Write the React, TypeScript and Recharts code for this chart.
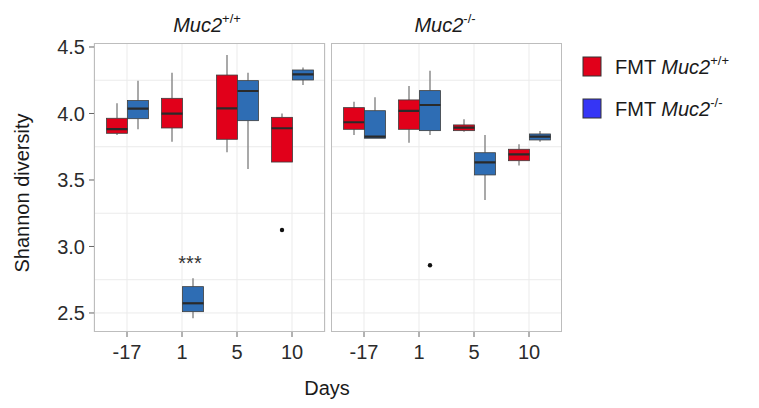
import { Bar, CartesianGrid, ComposedChart, XAxis, YAxis } from 'recharts'

const days = ['-17', '1', '5', '10']
const yTicks = [2.5, 3.0, 3.5, 4.0, 4.5]
const yMinor = [2.75, 3.25, 3.75, 4.25]

// [lower whisker, q1, median, q3, upper whisker] for each day
// recipients Muc2+/+
const wtRed = [
  [3.838, 3.851, 3.883, 3.964, 4.077],
  [3.788, 3.891, 3.999, 4.114, 4.307],
  [3.708, 3.806, 4.039, 4.289, 4.44],
  [3.635, 3.635, 3.889, 3.971, 4.0],
]
const wtBlue = [
  [3.881, 3.961, 4.036, 4.097, 4.247],
  [2.46, 2.51, 2.573, 2.698, 2.761],
  [3.583, 3.946, 4.169, 4.247, 4.307],
  [4.214, 4.252, 4.294, 4.327, 4.345],
]
// recipients Muc2-/-
const koRed = [
  [3.838, 3.881, 3.934, 4.044, 4.089],
  [3.78, 3.881, 4.019, 4.102, 4.207],
  [3.863, 3.871, 3.893, 3.914, 3.956],
  [3.608, 3.645, 3.693, 3.731, 3.768],
]
const koBlue = [
  [3.814, 3.814, 3.826, 4.021, 4.122],
  [3.838, 3.871, 4.064, 4.172, 4.322],
  [3.35, 3.538, 3.633, 3.705, 3.838],
  [3.788, 3.801, 3.826, 3.846, 3.868],
]
const wtRedOutliers = [[], [], [], [3.124]]
const wtBlueOutliers = [[], [], [], []]
const koRedOutliers = [[], [], [], []]
const koBlueOutliers = [[], [2.859], [], []]
const wtBlueSig = ['', '***', '', '']
const noSig = ['', '', '', '']

const RED = '#e1001a'
const BLUE = '#2e6db4'
const FONT = '"Liberation Sans", Arial, sans-serif'
const Y_DOMAIN = [2.357, 4.53]

function buildRows(red, blue, redOut, blueOut, redSig, blueSig) {
  return days.map((day, i) => ({
    day,
    red: [red[i][1], red[i][3]],
    blue: [blue[i][1], blue[i][3]],
    redStats: { s: red[i], out: redOut[i], sig: redSig[i] },
    blueStats: { s: blue[i], out: blueOut[i], sig: blueSig[i] },
  }))
}

const wtRows = buildRows(wtRed, wtBlue, wtRedOutliers, wtBlueOutliers, noSig, wtBlueSig)
const koRows = buildRows(koRed, koBlue, koRedOutliers, koBlueOutliers, noSig, noSig)

function boxShape(fill: string, key: string) {
  return (props: any) => {
    const { x, y, width, height, payload } = props
    const st = payload[key]
    const [lo, q1, med, q3, hi] = st.s
    const k = height / (q3 - q1)
    const py = (v: number) => y + (q3 - v) * k
    const cx = x + width / 2
    return (
      <g>
        <line x1={cx} x2={cx} y1={py(hi)} y2={py(q3)} stroke='#8c8c8c' strokeWidth={1.5} />
        <line x1={cx} x2={cx} y1={py(q1)} y2={py(lo)} stroke='#8c8c8c' strokeWidth={1.5} />
        <rect x={x} y={y} width={width} height={height} fill={fill} stroke='#3d3d3d' strokeWidth={0.8} />
        <line x1={x} x2={x + width} y1={py(med)} y2={py(med)} stroke='#2a2a2a' strokeWidth={2.2} />
        {st.out.map((v: number, j: number) => (
          <circle key={j} cx={cx} cy={py(v)} r={2.2} fill='#111' />
        ))}
        {st.sig ? (
          <text x={cx - 3} y={py(hi) - 8} textAnchor='middle' fontSize={20} fill='#333' fontFamily={FONT}>
            {st.sig}
          </text>
        ) : null}
      </g>
    )
  }
}

function Panel({ data, showY, left, width }) {
  return (
    <div style={{ position: 'absolute', left, top: 0 }}>
      <ComposedChart
        width={width}
        height={408}
        data={data}
        barGap={0}
        barSize={21}
        margin={{ top: 43, right: showY ? 5 : 0, bottom: 0, left: 0 }}
        style={{ fontFamily: FONT }}
      >
        <CartesianGrid
          stroke='#ebebeb'
          strokeWidth={1}
          horizontalValues={[...yTicks, ...yMinor]}
        />
        <XAxis
          dataKey='day'
          height={76}
          padding={{ left: 5.5, right: 5.5 }}
          axisLine={false}
          tickLine={{ stroke: '#666' }}
          tickSize={5}
          tickMargin={8}
          tick={{ fontSize: 20, fill: '#2b2b2b' }}
        />
        <YAxis
          hide={!showY}
          width={showY ? 94 : 0}
          type='number'
          domain={Y_DOMAIN}
          allowDataOverflow
          ticks={yTicks}
          tickFormatter={(v) => v.toFixed(1)}
          axisLine={false}
          tickLine={{ stroke: '#666' }}
          tickSize={5}
          tickMargin={4}
          tick={{ fontSize: 20, fill: '#2b2b2b' }}
        />
        <Bar dataKey='red' isAnimationActive={false} shape={boxShape(RED, 'redStats')} />
        <Bar dataKey='blue' isAnimationActive={false} shape={boxShape(BLUE, 'blueStats')} />
      </ComposedChart>
    </div>
  )
}

function Title({ x, sup }) {
  return (
    <text x={x} y={32} textAnchor='middle' fontSize={20} fill='#1a1a1a' fontFamily={FONT}>
      <tspan fontStyle='italic'>Muc2</tspan>
      <tspan fontSize={13} dy={-9}>{sup}</tspan>
    </text>
  )
}

function LegendItem({ y, color, sup }) {
  return (
    <g>
      <rect x={583} y={y} width={18} height={19} fill={color} stroke='#333' strokeWidth={1} />
      <text x={615} y={y + 17} fontSize={20} fill='#1a1a1a' fontFamily={FONT}>
        FMT <tspan fontStyle='italic'>Muc2</tspan>
        <tspan fontSize={13} dy={-9}>{sup}</tspan>
      </text>
    </g>
  )
}

export default function App() {
  return (
    <div style={{ position: 'absolute', left: 0, top: 0, width: 759, height: 408, background: '#fff' }}>
      <Panel data={wtRows} showY left={0} width={330} />
      <Panel data={koRows} showY={false} left={331} width={231} />
      <div style={{ position: 'absolute', left: 94, top: 43, width: 231, height: 289, border: '1px solid #bdbdbd', boxSizing: 'border-box', pointerEvents: 'none' }} />
      <div style={{ position: 'absolute', left: 331, top: 43, width: 231, height: 289, border: '1px solid #bdbdbd', boxSizing: 'border-box', pointerEvents: 'none' }} />
      <svg width={759} height={408} style={{ position: 'absolute', left: 0, top: 0, pointerEvents: 'none' }}>
        <Title x={207} sup='+/+' />
        <Title x={445} sup='-/-' />
        <text x={327} y={395} textAnchor='middle' fontSize={20} fill='#1a1a1a' fontFamily={FONT}>Days</text>
        <text
          transform='translate(29,193) rotate(-90)'
          textAnchor='middle'
          fontSize={20}
          fill='#1a1a1a'
          fontFamily={FONT}
        >
          Shannon diversity
        </text>
        <LegendItem y={57} color={RED} sup='+/+' />
        <LegendItem y={99} color='#3535f5' sup='-/-' />
      </svg>
    </div>
  )
}
